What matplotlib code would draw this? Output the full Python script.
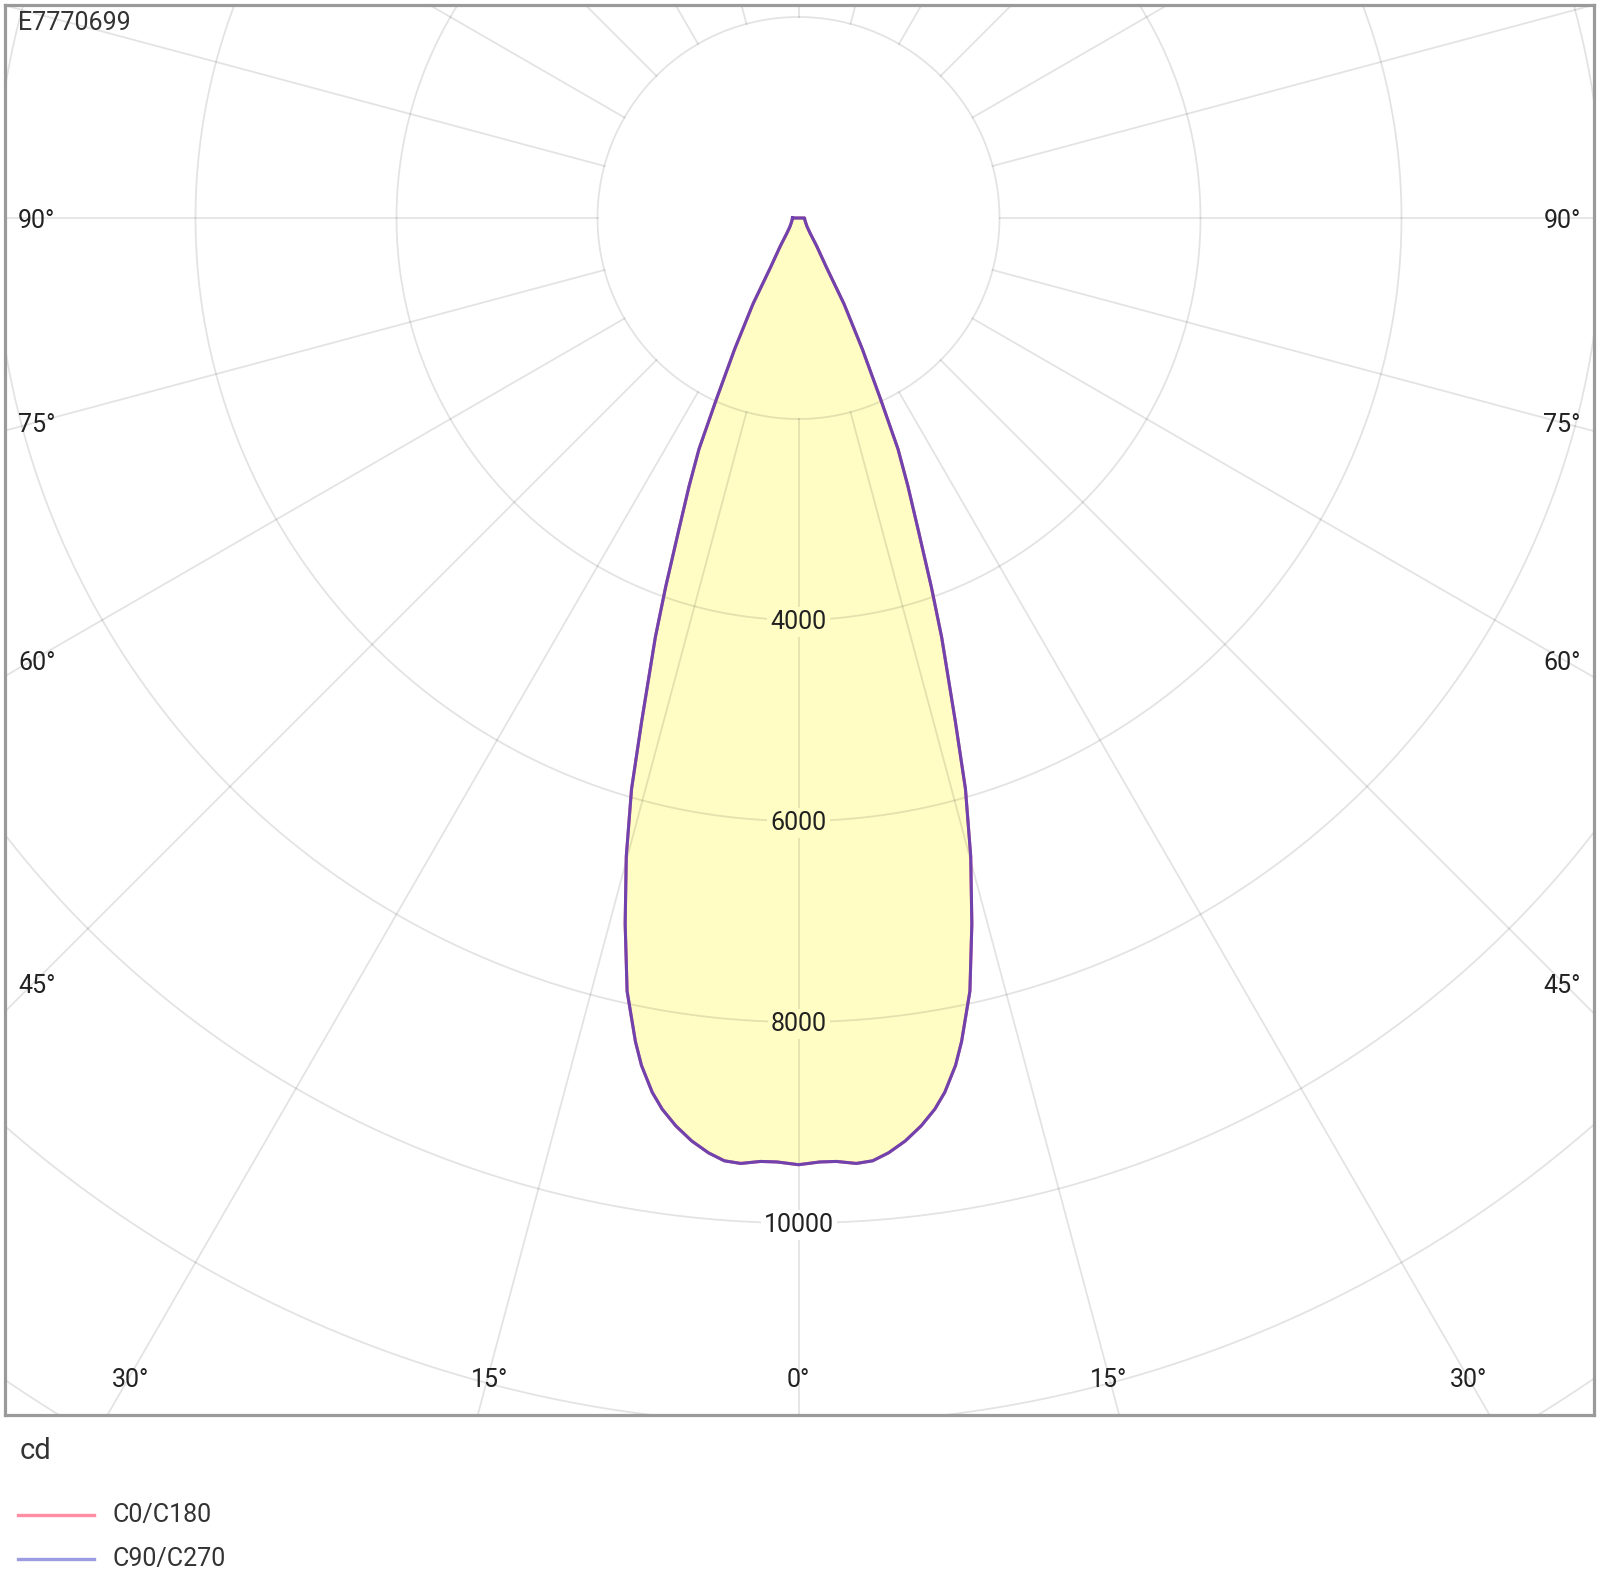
import matplotlib
matplotlib.use("Agg")
import matplotlib.pyplot as plt
import numpy as np
from matplotlib import font_manager as fm
from matplotlib.lines import Line2D

# ---------------- data ----------------
title = "E7770699"
unit_label = "cd"
series_names = ["C0/C180", "C90/C270"]
gamma_deg = [0, 1.3, 2.3, 3.5, 4.5, 5.5, 6.6, 7.7, 8.7, 9.5, 10.5, 11.2, 12.5, 13.8,
             15.1, 16.3, 17.3, 18.85, 19.8, 21.0, 22.2, 23.3, 24.35, 25.95, 27.9,
             29.5, 33.0, 37.3, 45, 60, 75, 90]
c0_c180 = [9420, 9395, 9395, 9425, 9410, 9345, 9245, 9115, 8970, 8820, 8575, 8354,
           7880, 7231, 6578, 5919, 5249, 4410, 3903, 3323, 2881, 2503, 1990, 1455,
           970, 570, 330, 192, 120, 80, 65, 60]
c90_c270 = [9420, 9395, 9395, 9425, 9410, 9345, 9245, 9115, 8970, 8820, 8575, 8354,
            7880, 7231, 6578, 5919, 5249, 4410, 3903, 3323, 2881, 2503, 1990, 1455,
            970, 570, 330, 192, 120, 80, 65, 60]
ring_values = [2000, 4000, 6000, 8000, 10000, 12000, 14000, 16000]
ring_labels = [4000, 6000, 8000, 10000]
spoke_step = 15
side_labels = ["90°", "75°", "60°", "45°"]
bottom_labels = ["30°", "15°", "0°", "15°", "30°"]

# ---------------- style ----------------
names = {f.name for f in fm.fontManager.ttflist}
if "Liberation Sans Narrow" in names:
    FONT, FS = "Liberation Sans Narrow", 19.5
else:
    FONT, FS = "Roboto", 18
plt.rcParams["font.family"] = [FONT, "DejaVu Sans"]

W, H, DPI = 1599, 1582, 100
FILL = "#FFFDC4"
TXT = "#222222"

fig = plt.figure(figsize=(W / DPI, H / DPI), dpi=DPI)
fig.patch.set_facecolor("white")

# axes frame in pixels
L, T, R, B = 5, 5, 1594, 1415
ax = fig.add_axes([L / W, 1 - B / H, (R - L) / W, (B - T) / H])
k = 201.0 / 2000.0          # px per cd
cx, cy = 798.5, 218.0       # pole position in pixels
ax.set_xlim(-(cx - L) / k, (R - cx) / k)
ax.set_ylim(-(B - cy) / k, (cy - T) / k)
ax.set_xticks([]); ax.set_yticks([])
for s in ax.spines.values():
    s.set_color("#9A9A9A"); s.set_linewidth(2.3)

def to_xy(g_deg, r):
    g = np.radians(np.asarray(g_deg, dtype=float))
    r = np.asarray(r, dtype=float)
    return r * np.sin(g), -r * np.cos(g)

# curve (mirrored halves, closed over the top)
g = np.array(gamma_deg)
full_g = np.concatenate([-g[::-1], g[1:], [-g[-1]]])
i0 = np.array(c0_c180); i90 = np.array(c90_c270)
full_i0 = np.concatenate([i0[::-1], i0[1:], [i0[-1]]])
full_i90 = np.concatenate([i90[::-1], i90[1:], [i90[-1]]])
x0, y0 = to_xy(full_g, full_i0)
x9, y9 = to_xy(full_g, full_i90)
ax.fill(x9, y9, color=FILL, zorder=1, lw=0)

# grid
t = np.linspace(0, 360, 1441)
for rv in ring_values:
    xr, yr = to_xy(t, np.full_like(t, rv))
    ax.plot(xr, yr, color="black", alpha=0.11, lw=1.3, zorder=2)
for a in np.arange(0, 360, spoke_step):
    xs, ys = to_xy([a, a], [ring_values[0], 40000])
    ax.plot(xs, ys, color="black", alpha=0.11, lw=1.3, zorder=2)

ax.plot(x0, y0, color="#E8607C", lw=2.2, zorder=3, solid_joinstyle="round")
ax.plot(x9, y9, color="#5A3DB8", lw=2.2, alpha=0.85, zorder=4, solid_joinstyle="round")

# ring labels along 0°
for v in ring_labels:
    fc = FILL if v < max(c90_c270) else "white"
    ax.text(0, -v - 20, f"{v}", ha="center", va="center", fontsize=FS, color=TXT,
            zorder=5, bbox=dict(boxstyle="square,pad=0.12", fc=fc, ec="none"))

def ftext(x, y, s, **kw):
    fig.text(x / W, 1 - y / H, s, **kw)

# angle labels
side_y = [221, 425, 663, 986]
for s, yy in zip(side_labels, side_y):
    ftext(18, yy, s, ha="left", va="center", fontsize=FS, color=TXT)
    ftext(1581, yy, s, ha="right", va="center", fontsize=FS, color=TXT)
bottom_x = [130.5, 489.5, 798.5, 1108.5, 1468.5]
for s, xx in zip(bottom_labels, bottom_x):
    ftext(xx, 1380, s, ha="center", va="center", fontsize=FS, color=TXT)

ftext(18, 23, title, ha="left", va="center", fontsize=FS, color="#333333")
ftext(20, 1451, unit_label, ha="left", va="center", fontsize=FS + 3, color="#333333")

# legend
leg_colors = ["#FF8DA4", "#9C9CE2"]
for name, col, yy in zip(series_names, leg_colors, [1515, 1559]):
    fig.add_artist(Line2D([18 / W, 94 / W], [1 - yy / H, 1 - yy / H],
                          transform=fig.transFigure, color=col, lw=2.4))
    ftext(112, yy, name, ha="left", va="center", fontsize=FS, color="#333333")

fig.savefig("out.png", dpi=DPI, facecolor="white")
